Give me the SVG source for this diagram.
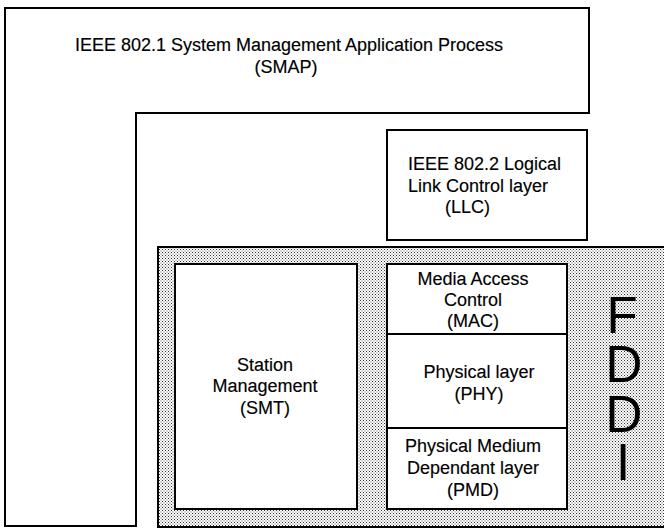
<svg xmlns="http://www.w3.org/2000/svg" width="664" height="529" viewBox="0 0 664 529">
<style>
.box{fill:#fff;stroke:#000;stroke-width:2}
.t{font-family:"Liberation Sans",Arial,sans-serif;font-size:18px;fill:#000;stroke:#000;stroke-width:0.15}
.m{text-anchor:middle}
.big{font-family:"Liberation Sans",Arial,sans-serif;font-size:51px;fill:#000;text-anchor:middle}
</style>
<defs>
<pattern id="dots" width="3" height="3" patternUnits="userSpaceOnUse">
<rect width="3" height="3" fill="#fff"/>
<rect x="0" y="0" width="1" height="1" fill="#333"/>
<rect x="1.5" y="1.5" width="1" height="1" fill="#555"/>
</pattern>
</defs>
<g id="smap">
<path class="box" d="M5 8 H589 V113 H136 V526 H5 Z"/>
<text class="t m" x="289" y="51">IEEE 802.1 System Management Application Process</text>
<text class="t m" x="286" y="73">(SMAP)</text>
</g>
<g id="llc">
<rect class="box" x="387" y="130" width="200" height="110"/>
<text class="t" x="408" y="170">IEEE 802.2 Logical</text>
<text class="t" x="408" y="192">Link Control layer</text>
<text class="t" x="445" y="213">(LLC)</text>
</g>
<g id="fddi">
<rect x="158" y="247" width="520" height="280" fill="url(#dots)" stroke="#000" stroke-width="2"/>
<text class="big"><tspan x="622" y="333">F</tspan><tspan x="624" y="382">D</tspan><tspan x="624" y="432">D</tspan><tspan x="623" y="480">I</tspan></text>
</g>
<g id="smt">
<rect class="box" x="175" y="264" width="182" height="245"/>
<text class="t m" x="265" y="371">Station</text>
<text class="t m" x="265" y="392">Management</text>
<text class="t m" x="265" y="414">(SMT)</text>
</g>
<g id="mac">
<rect class="box" x="387" y="264" width="180" height="70"/>
<text class="t m" x="473" y="285">Media Access</text>
<text class="t m" x="473" y="306">Control</text>
<text class="t m" x="473" y="327">(MAC)</text>
</g>
<g id="phy">
<rect class="box" x="387" y="334" width="180" height="94"/>
<text class="t m" x="479" y="378">Physical layer</text>
<text class="t m" x="479" y="400">(PHY)</text>
</g>
<g id="pmd">
<rect class="box" x="387" y="428" width="180" height="81"/>
<text class="t m" x="473" y="452">Physical Medium</text>
<text class="t m" x="473" y="474">Dependant layer</text>
<text class="t m" x="473" y="496">(PMD)</text>
</g>
</svg>
